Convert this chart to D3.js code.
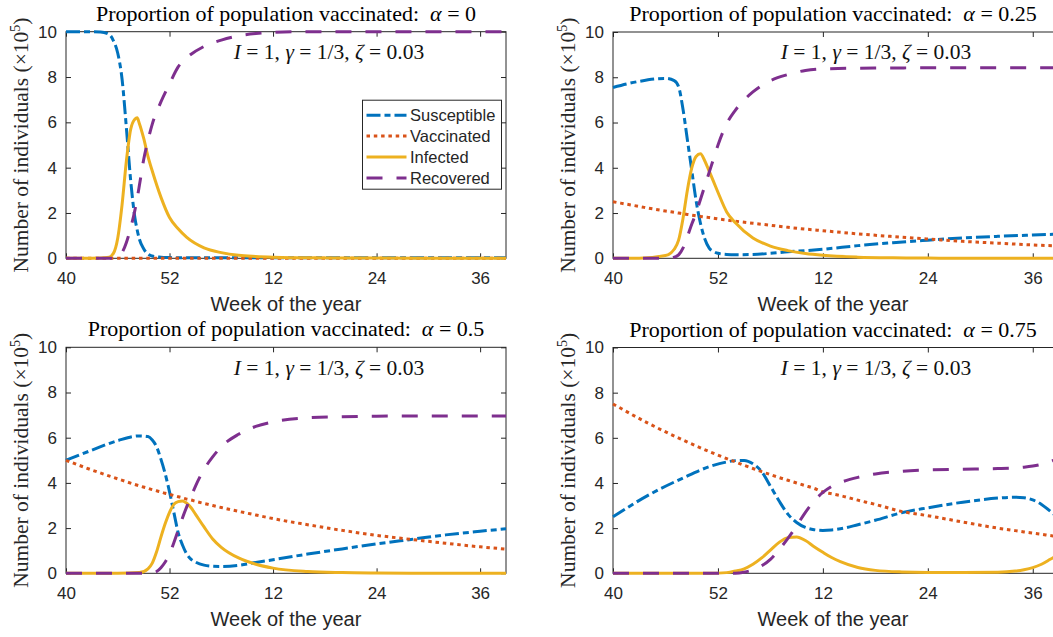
<!DOCTYPE html>
<html><head><meta charset="utf-8">
<script src="https://cdn.jsdelivr.net/npm/d3@7"></script>
<style>body{margin:0;background:#fff} svg{display:block} text{white-space:pre}</style>
</head><body>
<svg id="chart" width="1053" height="637"></svg>
<script>
// ---------- data ----------
const seriesNames = ["Susceptible", "Vaccinated", "Infected", "Recovered"];
const xTickWeeks = [0, 12, 24, 36, 48];          // weeks since week 40
const xTickLabels = ["40", "52", "12", "24", "36"];
const yTicks = [0, 2, 4, 6, 8, 10];
const alphaLabels = ["0", "0.25", "0.5", "0.75"];

// panel alpha = 0
const weeks0 = [0, 2, 4, 5, 5.5, 6, 6.5, 7, 7.5, 8, 8.25, 8.5, 9, 9.5, 10, 11, 12, 13, 14, 16, 18, 20, 22, 24, 28, 36, 44, 51];
const sus0 = [10, 10, 9.99, 9.88, 9.6, 9.05, 7.9, 5.75, 3.42, 1.76, 1.25, 0.85, 0.42, 0.18, 0.1, 0.05, 0.03, 0.02, 0.02, 0.02, 0.02, 0.02, 0.02, 0.02, 0.02, 0.02, 0.02, 0.02];
const vac0 = [0, 0, 0, 0, 0, 0, 0, 0, 0, 0, 0, 0, 0, 0, 0, 0, 0, 0, 0, 0, 0, 0, 0, 0, 0, 0, 0, 0];
const inf0 = [0, 0, 0.01, 0.05, 0.22, 0.9, 2.37, 4.3, 5.7, 6.15, 6.2, 5.95, 5.3, 4.5, 3.85, 2.7, 1.8, 1.3, 0.92, 0.46, 0.25, 0.13, 0.08, 0.05, 0.02, 0.01, 0, 0];
const rec0 = [0, 0, 0, 0, 0.01, 0.05, 0.25, 0.7, 1.35, 2.15, 2.65, 3.2, 4.35, 5.2, 5.92, 6.9, 7.7, 8.45, 8.85, 9.35, 9.63, 9.82, 9.92, 9.97, 10, 10, 10, 10];

// panel alpha = 0.25
const weeks1 = [0, 3, 6, 7, 7.5, 8, 8.5, 9, 9.5, 10, 10.5, 11, 11.5, 12, 13, 14, 16, 18, 20, 22, 24, 28, 32, 36, 40, 44, 48, 51];
const sus1 = [7.55, 7.82, 7.95, 7.85, 7.58, 6.6, 5.25, 3.9, 2.55, 1.55, 0.85, 0.45, 0.3, 0.22, 0.17, 0.16, 0.17, 0.22, 0.29, 0.34, 0.4, 0.56, 0.69, 0.8, 0.9, 0.97, 1.03, 1.07];
const vac1 = [2.5, 2.29, 2.09, 2.03, 2.0, 1.97, 1.94, 1.91, 1.88, 1.85, 1.82, 1.8, 1.77, 1.74, 1.69, 1.64, 1.55, 1.46, 1.37, 1.29, 1.22, 1.08, 0.96, 0.85, 0.75, 0.67, 0.59, 0.55];
const inf1 = [0, 0, 0.12, 0.4, 0.8, 1.75, 3.0, 3.98, 4.5, 4.62, 4.3, 3.85, 3.39, 2.92, 2.05, 1.57, 0.9, 0.54, 0.34, 0.21, 0.13, 0.05, 0.02, 0.01, 0, 0, 0, 0];
const rec1 = [0, 0, 0, 0.05, 0.15, 0.45, 0.95, 1.5, 2.0, 2.6, 3.2, 3.8, 4.4, 5.0, 5.95, 6.55, 7.35, 7.85, 8.12, 8.3, 8.37, 8.4, 8.41, 8.42, 8.42, 8.42, 8.42, 8.42];

// panel alpha = 0.5
const weeks2 = [0, 3, 6, 8.5, 9.5, 10, 10.5, 11, 11.5, 12, 12.5, 13, 13.5, 14, 14.5, 15, 16, 17, 18, 20, 22, 24, 28, 32, 36, 40, 44, 48, 51];
const sus2 = [5.0, 5.45, 5.87, 6.08, 6.05, 5.9, 5.6, 5.05, 4.4, 3.6, 2.7, 1.8, 1.25, 0.85, 0.62, 0.5, 0.36, 0.31, 0.3, 0.35, 0.48, 0.6, 0.85, 1.08, 1.3, 1.5, 1.7, 1.86, 1.97];
const vac2 = [5.0, 4.57, 4.18, 3.87, 3.76, 3.7, 3.65, 3.6, 3.54, 3.49, 3.44, 3.39, 3.34, 3.28, 3.24, 3.19, 3.09, 3.0, 2.91, 2.74, 2.58, 2.42, 2.15, 1.9, 1.68, 1.5, 1.33, 1.17, 1.07];
const inf2 = [0, 0, 0, 0.03, 0.2, 0.45, 0.95, 1.6, 2.2, 2.7, 3.05, 3.17, 3.2, 3.1, 2.9, 2.62, 2.05, 1.52, 1.15, 0.68, 0.4, 0.23, 0.08, 0.03, 0.01, 0, 0, 0, 0];
const rec2 = [0, 0, 0, 0, 0, 0.02, 0.08, 0.25, 0.5, 0.85, 1.35, 1.9, 2.45, 2.95, 3.4, 3.85, 4.6, 5.15, 5.6, 6.15, 6.5, 6.7, 6.88, 6.93, 6.95, 6.96, 6.96, 6.96, 6.96];

// panel alpha = 0.75
const weeks3 = [0, 4, 8, 11, 13, 14, 15, 16, 17, 18, 19, 20, 21, 22, 23, 24, 25, 26, 28, 30, 33, 36, 40, 44, 46, 47, 48, 49, 50, 51];
const sus3 = [2.5, 3.45, 4.22, 4.72, 4.93, 4.99, 5.0, 4.85, 4.5, 3.86, 3.2, 2.62, 2.25, 2.03, 1.93, 1.9, 1.92, 1.97, 2.15, 2.35, 2.68, 2.9, 3.15, 3.33, 3.37, 3.35, 3.25, 3.05, 2.75, 2.4];
const vac3 = [7.5, 6.65, 5.9, 5.39, 5.08, 4.93, 4.78, 4.64, 4.5, 4.37, 4.24, 4.12, 4.0, 3.88, 3.76, 3.6, 3.52, 3.44, 3.24, 3.05, 2.74, 2.55, 2.27, 2.0, 1.89, 1.83, 1.78, 1.73, 1.67, 1.62];
const inf3 = [0, 0, 0, 0, 0.03, 0.1, 0.2, 0.4, 0.68, 1.03, 1.37, 1.58, 1.61, 1.45, 1.18, 0.93, 0.7, 0.52, 0.26, 0.13, 0.06, 0.04, 0.04, 0.05, 0.1, 0.16, 0.25, 0.4, 0.62, 0.85];
const rec3 = [0, 0, 0, 0, 0, 0, 0.05, 0.15, 0.33, 0.62, 1.05, 1.55, 2.1, 2.7, 3.2, 3.58, 3.85, 4.02, 4.25, 4.4, 4.52, 4.58, 4.61, 4.64, 4.67, 4.7, 4.75, 4.83, 4.95, 5.1];

// ---------- build ----------
const panelWeeks = [weeks0, weeks1, weeks2, weeks3];
const panelSeries = [
  [sus0, vac0, inf0, rec0],
  [sus1, vac1, inf1, rec1],
  [sus2, vac2, inf2, rec2],
  [sus3, vac3, inf3, rec3]
];
const colors = ["#0072BD", "#D95319", "#EDB120", "#7E2F8E"];
const dashes = ["14,4,6,4", "3.5,3.8", null, "16,14"];

const frames = [
  {x0: 66, x1: 506, y0: 31.7, y1: 258.3},
  {x0: 613, x1: 1059, y0: 32, y1: 258.3},
  {x0: 66, x1: 506, y0: 347.3, y1: 573.3},
  {x0: 613, x1: 1059, y0: 347.5, y1: 573.3}
];

const svg = d3.select("#chart");
const axisColor = "#262626";
const sans = "'Liberation Sans', Arial, Helvetica, sans-serif";
const serif = "'Liberation Serif', 'Times New Roman', serif";

frames.forEach((f, p) => {
  const g = svg.append("g");
  const x = d3.scaleLinear().domain([0, 51]).range([f.x0, f.x1]);
  const y = d3.scaleLinear().domain([0, 10]).range([f.y1, f.y0]);
  const tl = 5;

  // box
  g.append("rect").attr("x", f.x0).attr("y", f.y0)
    .attr("width", f.x1 - f.x0).attr("height", f.y1 - f.y0)
    .attr("fill", "none").attr("stroke", axisColor).attr("stroke-width", 1);

  // axes via d3 axis (inner ticks on all four sides)
  const xb = d3.axisBottom(x).tickValues(xTickWeeks).tickSize(-tl).tickFormat((d, i) => xTickLabels[i]).tickPadding(14);
  const xt = d3.axisTop(x).tickValues(xTickWeeks).tickSize(-tl).tickFormat("");
  const yl = d3.axisLeft(y).tickValues(yTicks).tickSize(-tl).tickFormat(d3.format("d")).tickPadding(9);
  const yr = d3.axisRight(y).tickValues(yTicks).tickSize(-tl).tickFormat("");

  const ax = [
    g.append("g").attr("transform", `translate(0,${f.y1})`).call(xb),
    g.append("g").attr("transform", `translate(0,${f.y0})`).call(xt),
    g.append("g").attr("transform", `translate(${f.x0},0)`).call(yl),
    g.append("g").attr("transform", `translate(${f.x1},0)`).call(yr)
  ];
  ax.forEach(a => {
    a.select(".domain").remove();
    a.selectAll(".tick line").attr("stroke", axisColor).attr("stroke-width", 1);
    a.selectAll(".tick text").attr("fill", "#262626").style("font-family", sans).style("font-size", "17px");
  });

  // x label
  g.append("text").attr("x", (f.x0 + 506 - 66 + f.x0) / 2).attr("y", f.y1 + 52.5)
    .attr("text-anchor", "middle").style("font-family", sans).style("font-size", "20px")
    .attr("fill", "#262626").text("Week of the year");

  // y label
  const yl2 = g.append("text")
    .attr("transform", `translate(${f.x0 - 38.5},${(f.y0 + f.y1) / 2}) rotate(-90)`)
    .attr("text-anchor", "middle").style("font-family", serif).style("font-size", "21.5px")
    .attr("fill", "#262626");
  yl2.append("tspan").text("Number of individuals (×10");
  yl2.append("tspan").attr("dy", -8).style("font-size", "14px").text("5");
  yl2.append("tspan").attr("dy", 8).text(")");

  // title
  const cx = f.x0 + 220;
  const t = g.append("text").attr("x", cx).attr("y", f.y0 - 11)
    .attr("text-anchor", "middle").style("font-family", serif).style("font-size", "22px").attr("fill", "#000");
  t.append("tspan").text("Proportion of population vaccinated:  ");
  t.append("tspan").style("font-style", "italic").text("α");
  t.append("tspan").text(" = " + alphaLabels[p]);

  // annotation
  const an = g.append("text").attr("x", f.x0 + 263).attr("y", f.y0 + 27.3)
    .attr("text-anchor", "middle").style("font-family", serif).style("font-size", "21.5px").attr("fill", "#111");
  an.append("tspan").style("font-style", "italic").text("I");
  an.append("tspan").text(" = 1, ");
  an.append("tspan").style("font-style", "italic").text("γ");
  an.append("tspan").text(" = 1/3, ");
  an.append("tspan").style("font-style", "italic").text("ζ");
  an.append("tspan").text(" = 0.03");

  // lines
  const wk = panelWeeks[p];
  panelSeries[p].forEach((vals, k) => {
    const pts = wk.map((w, i) => [w, vals[i]]);
    const line = d3.line().x(d => x(d[0])).y(d => y(d[1])).curve(d3.curveMonotoneX);
    g.append("path").attr("d", line(pts)).attr("fill", "none")
      .attr("stroke", colors[k]).attr("stroke-width", 3)
      .attr("stroke-dasharray", dashes[k]);
  });

  // legend in first panel
  if (p === 0) {
    const lw = 139, lh = 89;
    const lx = f.x1 - 4.5 - lw, ly = f.y0 + 68.5;
    const lg = g.append("g");
    lg.append("rect").attr("x", lx).attr("y", ly).attr("width", lw).attr("height", lh)
      .attr("fill", "#fff").attr("stroke", axisColor).attr("stroke-width", 1);
    seriesNames.forEach((name, k) => {
      const ry = ly + 15 + k * 20.9;
      lg.append("line").attr("x1", lx + 4).attr("x2", lx + 44).attr("y1", ry).attr("y2", ry)
        .attr("stroke", colors[k]).attr("stroke-width", 3).attr("stroke-dasharray", dashes[k]);
      lg.append("text").attr("x", lx + 47.5).attr("y", ry).attr("dy", "0.36em")
        .style("font-family", sans).style("font-size", "16.5px").attr("fill", "#262626").text(name);
    });
  }
});
</script>
</body></html>
